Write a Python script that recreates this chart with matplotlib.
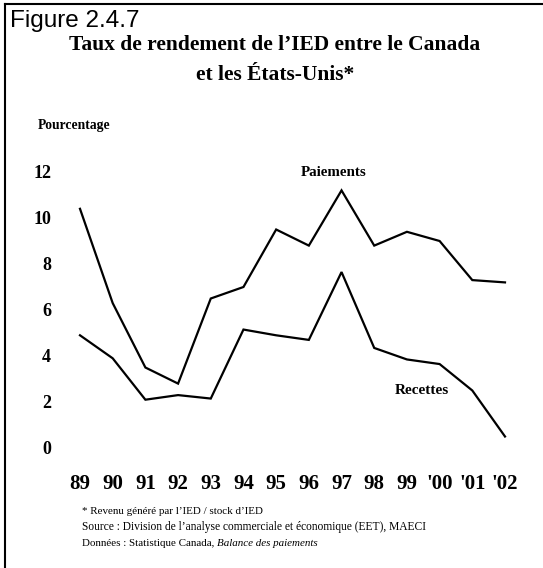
import matplotlib
matplotlib.use("Agg")
import matplotlib.pyplot as plt
from matplotlib.lines import Line2D

years = ["89", "90", "91", "92", "93", "94", "95", "96", "97", "98", "99", "'00", "'01", "'02"]
paiements = [10.4, 6.3, 3.5, 2.8, 6.5, 7.0, 9.5, 8.8, 11.2, 8.8, 9.4, 9.0, 7.3, 7.2]
recettes = [4.9, 3.9, 2.1, 2.3, 2.15, 5.15, 4.9, 4.7, 7.65, 4.35, 3.85, 3.65, 2.5, 0.5]
yticks = [0, 2, 4, 6, 8, 10, 12]

SERIF = ["Liberation Serif", "DejaVu Serif"]
SANS = ["Liberation Sans", "DejaVu Sans"]

W, H = 543, 568
fig = plt.figure(figsize=(W / 100, H / 100), dpi=100)
fig.patch.set_facecolor("white")

def fx(px):
    return px / W

def fy(py):
    return 1 - py / H

# axes placement
x0, x1 = 80, 505
step = (x1 - x0) / 13
left = x0 - 0.5 * step
right = x1 + 0.5 * step
ybot, ytop = 448, 172
ax = fig.add_axes([fx(left), fy(ybot), fx(right - left), (ybot - ytop) / H])
ax.set_xlim(-0.5, 13.5)
ax.set_ylim(0, 12)
xs = list(range(len(years)))
ax.plot(xs, paiements, color="black", lw=1.6, solid_joinstyle="miter", clip_on=False)
ax.plot(xs, recettes, color="black", lw=1.6, solid_joinstyle="miter", clip_on=False)
for s in ax.spines.values():
    s.set_visible(False)
ax.set_xticks(xs)
ax.set_xticklabels(years, family=SERIF, fontweight="bold", fontsize=15)
ax.set_yticks(yticks)
ax.set_yticklabels([str(v) for v in yticks], family=SERIF, fontweight="bold", fontsize=13)
ax.tick_params(axis="both", length=0)
ax.tick_params(axis="x", pad=18.5)
ax.tick_params(axis="y", pad=9)
ax.set_facecolor("none")

ax.text(7.75, 12.0, "Paiements", family=SERIF, fontweight="bold", fontsize=10.8,
        ha="center", va="center")
ax.text(10.45, 2.5, "Recettes", family=SERIF, fontweight="bold", fontsize=11,
        ha="center", va="center")

# texts
fig.text(fx(10), fy(21), "Figure 2.4.7", family=SANS, fontsize=17.5, ha="left", va="center")
fig.text(fx(275), fy(45), "Taux de rendement de l\u2019IED entre le Canada", family=SERIF,
         fontweight="bold", fontsize=15.5, ha="center", va="center")
fig.text(fx(275), fy(75), "et les \u00c9tats-Unis*", family=SERIF,
         fontweight="bold", fontsize=15.5, ha="center", va="center")
fig.text(fx(38), fy(126), "Pourcentage", family=SERIF, fontweight="bold", fontsize=9.8,
         ha="left", va="center")
fig.text(fx(82), fy(511), "* Revenu g\u00e9n\u00e9r\u00e9 par l\u2019IED / stock d\u2019IED", family=SERIF,
         fontsize=7.9, ha="left", va="center")
fig.text(fx(82), fy(527), "Source : Division de l\u2019analyse commerciale et \u00e9conomique (EET), MAECI",
         family=SERIF, fontsize=8.3, ha="left", va="center")
t = fig.text(fx(82), fy(544), "Donn\u00e9es : Statistique Canada, ", family=SERIF, fontsize=7.9,
             ha="left", va="center")
fig.canvas.draw()
bb = t.get_window_extent()
fig.text(bb.x1 / W, fy(544), "Balance des paiements", family=SERIF, fontsize=7.9,
         style="italic", ha="left", va="center")

# frame lines (top and left)
fig.add_artist(Line2D([fx(5), 1], [fy(4), fy(4)], color="black", lw=1.5))
fig.add_artist(Line2D([fx(5), fx(5)], [fy(4), 0], color="black", lw=1.5))

fig.savefig("out.png", dpi=100, facecolor="white")
